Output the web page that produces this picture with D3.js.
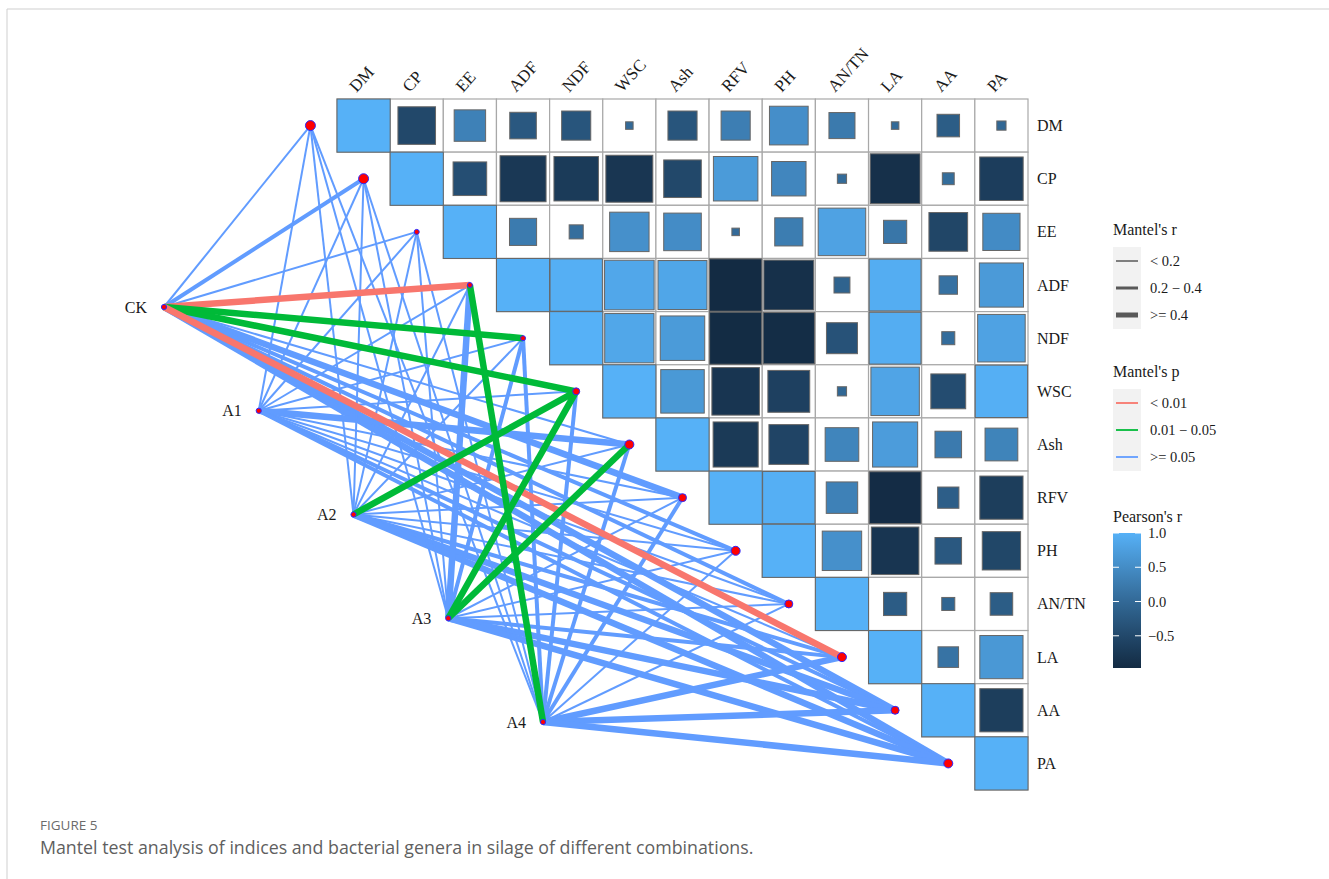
<!DOCTYPE html>
<html>
<head>
    <meta charset="utf-8">
    <title>Mantel test</title>
    <script src="https://cdnjs.cloudflare.com/ajax/libs/d3/7.8.5/d3.min.js"></script>
    <style>
        body{ margin:0; background:#fff; }
        svg{ display:block; }
        .serif{ font-family:'Liberation Serif', 'DejaVu Serif', serif; fill:#1a1a1a; }
        .cap{ font-family:'Open Sans', 'Noto Sans', sans-serif; }
    </style>
</head>
<body>
<svg id="chart" width="1329" height="879"></svg>
<script>
// variables (matrix) and the groups that were tested against them
var vars = ["DM","CP","EE","ADF","NDF","WSC","Ash","RFV","PH","AN/TN","LA","AA","PA"];
var groups = ["CK","A1","A2","A3","A4"];

// Pearson's r, upper triangle row by row (starting at the diagonal)
var pearsonR = [
    [1, -0.5, 0.35, -0.25, -0.3, 0.02, -0.3, 0.3, 0.53, 0.24, 0.02, -0.18, -0.03],
    [1, -0.4, -0.75, -0.7, -0.78, -0.5, 0.7, 0.42, 0.03, -0.88, 0.05, -0.67],
    [1, 0.26, 0.07, 0.55, 0.5, 0.02, 0.28, 0.8, 0.19, -0.53, 0.49],
    [1, 0.97, 0.87, 0.85, -0.97, -0.88, -0.09, 0.95, 0.12, 0.69],
    [1, 0.86, 0.7, -0.96, -0.93, -0.34, 0.95, 0.06, 0.8],
    [1, 0.67, -0.8, -0.62, -0.03, 0.83, -0.43, 0.97],
    [1, -0.72, -0.56, 0.4, 0.72, 0.25, 0.38],
    [1, 0.97, 0.35, -0.95, -0.16, -0.66],
    [1, 0.55, -0.8, -0.25, -0.52],
    [1, -0.19, -0.06, -0.18],
    [1, 0.15, 0.66],
    [1, -0.66],
    [1]
];

// Mantel's r and p, one row per group, columns follow vars
var mantelR = [
    [0.15, 0.3, 0.15, 0.45, 0.45, 0.45, 0.15, 0.45, 0.3, 0.3, 0.45, 0.45, 0.45],
    [0.1, 0.1, 0.1, 0.1, 0.1, 0.1, 0.45, 0.1, 0.1, 0.1, 0.1, 0.3, 0.3],
    [0.1, 0.1, 0.1, 0.1, 0.1, 0.45, 0.1, 0.1, 0.1, 0.1, 0.3, 0.45, 0.45],
    [0.1, 0.1, 0.1, 0.45, 0.3, 0.45, 0.45, 0.1, 0.1, 0.1, 0.3, 0.45, 0.45],
    [0.1, 0.1, 0.1, 0.45, 0.3, 0.3, 0.3, 0.3, 0.1, 0.1, 0.45, 0.45, 0.45]
];
var mantelP = [
    [0.3, 0.2, 0.4, 0.005, 0.03, 0.03, 0.2, 0.1, 0.2, 0.3, 0.005, 0.1, 0.1],
    [0.5, 0.6, 0.5, 0.4, 0.5, 0.4, 0.1, 0.5, 0.6, 0.5, 0.4, 0.2, 0.2],
    [0.5, 0.6, 0.5, 0.4, 0.5, 0.03, 0.5, 0.5, 0.6, 0.5, 0.2, 0.1, 0.1],
    [0.5, 0.6, 0.5, 0.1, 0.2, 0.02, 0.03, 0.5, 0.6, 0.5, 0.2, 0.1, 0.1],
    [0.5, 0.6, 0.5, 0.03, 0.2, 0.2, 0.2, 0.2, 0.6, 0.5, 0.1, 0.1, 0.1]
];
var varNodeSize = [5, 5, 2.5, 2.5, 2.5, 3.5, 4.5, 4, 4.5, 4, 4.5, 4, 4.5];

var legendR = ["< 0.2", "0.2 \u2212 0.4", ">= 0.4"];
var legendP = ["< 0.01", "0.01 \u2212 0.05", ">= 0.05"];
var colorTicks = [-0.5, 0, 0.5, 1];

var svg = d3.select("#chart");

// figure frame + caption
svg.append("line").attr("x1",7).attr("y1",9).attr("x2",1329).attr("y2",9).attr("stroke","#cfcfcf");
svg.append("line").attr("x1",7).attr("y1",9).attr("x2",7).attr("y2",879).attr("stroke","#cfcfcf");
svg.append("text").attr("class","cap").attr("x",40).attr("y",830)
    .attr("font-size",13.5).attr("fill","#6b6b6b").text("FIGURE 5");
svg.append("text").attr("class","cap").attr("x",40).attr("y",854)
    .attr("font-size",17.8).attr("fill","#5f5f5f")
    .text("Mantel test analysis of indices and bacterial genera in silage of different combinations.");

var x = d3.scaleBand().domain(vars).range([337, 1028]);
var y = d3.scaleBand().domain(vars).range([99, 790]);
var cell = x.bandwidth();

var cells = [];
pearsonR.forEach(function(row, i){
    row.forEach(function(r, k){
        cells.push({row: vars[i], col: vars[i + k], r: r, diag: k === 0});
    });
});

var rExt = d3.extent(cells, d => d.r);
var color = d3.scaleLinear().domain([rExt[0], 1]).range(["#132B43", "#56B1F7"]).interpolate(d3.interpolateLab);
var side = d3.scaleSqrt().domain([0, 1]).range([0, cell]);

// grid cells
var heat = svg.append("g");
heat.selectAll("rect.cell").data(cells).enter().append("rect")
    .attr("class","cell")
    .attr("x", d => x(d.col)).attr("y", d => y(d.row))
    .attr("width", cell).attr("height", cell)
    .attr("fill","#fff").attr("stroke","#a8a8a8").attr("stroke-width",1.2);

heat.selectAll("rect.sq").data(cells).enter().append("rect")
    .attr("class","sq")
    .attr("x", d => x(d.col) + (cell - side(Math.abs(d.r))) / 2)
    .attr("y", d => y(d.row) + (cell - side(Math.abs(d.r))) / 2)
    .attr("width", d => side(Math.abs(d.r)))
    .attr("height", d => side(Math.abs(d.r)))
    .attr("fill", d => color(d.r))
    .attr("stroke","#666").attr("stroke-width",1);

// labels
svg.append("g").selectAll("text").data(vars).enter().append("text")
    .attr("class","serif").attr("font-size",17)
    .attr("transform", d => "translate(" + (x(d) + cell / 2 - 7) + ",93) rotate(-48)")
    .text(d => d);
svg.append("g").selectAll("text").data(vars).enter().append("text")
    .attr("class","serif").attr("font-size",16)
    .attr("x", 1037).attr("y", d => y(d) + cell / 2 + 5.5)
    .text(d => d);

// links
var gx = d3.scalePoint().domain(groups).range([164, 543]);
var gy = d3.scalePoint().domain(groups).range([307, 722]);
var lw = d3.scaleThreshold().domain([0.2, 0.4]).range([2, 4, 6.5]);
var lc = d3.scaleThreshold().domain([0.01, 0.05]).range(["#F8766D", "#00BA38", "#619CFF"]);

var links = [];
groups.forEach(function(g, gi){
    vars.forEach(function(v, vi){
        links.push({g: g, v: v, vi: vi, r: mantelR[gi][vi], p: mantelP[gi][vi]});
    });
});
links.sort((a, b) => d3.descending(a.p >= 0.05, b.p >= 0.05));

var nodeX = v => x(v) - cell / 2;
var nodeY = v => y(v) + cell / 2;

svg.append("g").selectAll("line").data(links).enter().append("line")
    .attr("x1", d => gx(d.g)).attr("y1", d => gy(d.g))
    .attr("x2", d => nodeX(d.v)).attr("y2", d => nodeY(d.v))
    .attr("stroke", d => lc(d.p)).attr("stroke-width", d => lw(d.r));

svg.append("g").selectAll("circle").data(vars).enter().append("circle")
    .attr("cx", d => nodeX(d)).attr("cy", d => nodeY(d))
    .attr("r", (d, i) => varNodeSize[i])
    .attr("fill","#ff0000").attr("stroke","#2b2bff").attr("stroke-width",1);

svg.append("g").selectAll("circle").data(groups).enter().append("circle")
    .attr("cx", d => gx(d)).attr("cy", d => gy(d)).attr("r", 2.6)
    .attr("fill","#ff0000").attr("stroke","#2b2bff").attr("stroke-width",1);
svg.append("g").selectAll("text").data(groups).enter().append("text")
    .attr("class","serif").attr("font-size",16).attr("text-anchor","end")
    .attr("x", d => gx(d) - 17).attr("y", d => gy(d) + 5.5)
    .text(d => d);

// legends
var leg = svg.append("g");
function keyBlock(top, title, labels, strokeOf, widthOf){
    leg.append("text").attr("class","serif").attr("font-size",16)
        .attr("x",1113).attr("y",top).text(title);
    leg.append("rect").attr("x",1113).attr("y",top + 12).attr("width",28).attr("height",82).attr("fill","#f2f2f2");
    labels.forEach(function(t, i){
        var yy = top + 26 + i * 27;
        leg.append("line").attr("x1",1116).attr("x2",1138).attr("y1",yy).attr("y2",yy)
            .attr("stroke", strokeOf(i)).attr("stroke-width", widthOf(i));
        leg.append("text").attr("class","serif").attr("font-size",14.5)
            .attr("x",1150).attr("y",yy + 5).text(t);
    });
}
keyBlock(235, "Mantel's r", legendR, () => "#595959", i => [1.5, 3, 5][i]);
keyBlock(377, "Mantel's p", legendP, i => lc.range()[i], () => 1.8);

leg.append("text").attr("class","serif").attr("font-size",16)
    .attr("x",1113).attr("y",522).text("Pearson's r");
var cb = d3.scaleLinear().domain([rExt[0], 1]).range([668, 533]);
var grad = svg.append("defs").append("linearGradient").attr("id","cbar")
    .attr("x1",0).attr("y1",1).attr("x2",0).attr("y2",0);
d3.range(0, 1.0001, 0.1).forEach(function(t){
    grad.append("stop").attr("offset", t).attr("stop-color", color(rExt[0] + t * (1 - rExt[0])));
});
leg.append("rect").attr("x",1113).attr("y",533).attr("width",28).attr("height",135).attr("fill","url(#cbar)");
leg.append("g").selectAll("line").data(colorTicks).enter().append("line")
    .attr("x1",1113).attr("x2",1119).attr("y1", d => cb(d)).attr("y2", d => cb(d))
    .attr("stroke","#fff").attr("stroke-width",1);
leg.append("g").selectAll("line").data(colorTicks).enter().append("line")
    .attr("x1",1135).attr("x2",1141).attr("y1", d => cb(d)).attr("y2", d => cb(d))
    .attr("stroke","#fff").attr("stroke-width",1);
leg.append("g").selectAll("text").data(colorTicks).enter().append("text")
    .attr("class","serif").attr("font-size",14.5)
    .attr("x",1148).attr("y", d => cb(d) + 5)
    .text(d3.format(".1f"));
</script>
</body>
</html>
